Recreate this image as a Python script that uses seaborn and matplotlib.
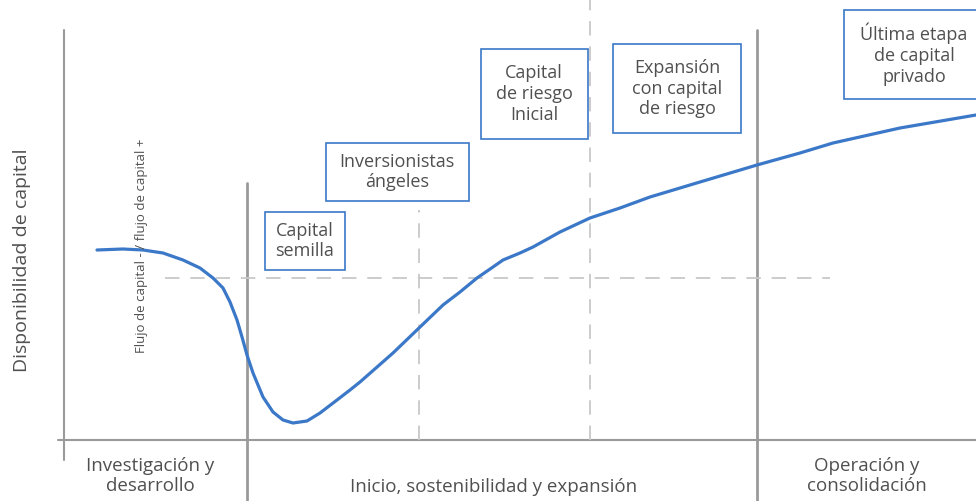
import numpy as np
import pandas as pd
import matplotlib.pyplot as plt
import matplotlib.patches as mpatches
import seaborn as sns

# Curve: stage position (x) vs capital availability (height above the x axis)
stage_pos = [97, 123, 143, 163, 183, 200, 213, 223, 230, 237, 242, 247, 253,
             263, 273, 283, 293, 307, 320, 337, 350, 360, 393, 419, 443, 460,
             477, 493, 503, 520, 533, 560, 590, 620, 650, 700, 757, 800, 833,
             900, 976]
availability = [190, 191, 190, 187, 180, 172, 162, 152, 138, 120, 103, 85, 67,
                43, 28, 20, 17, 19, 27, 40, 50, 58, 87, 112, 135, 148,
                162, 173, 180, 187, 193, 208, 222, 232, 243, 258, 275, 287, 297,
                312, 325]

# Phase labels along the bottom
phases = ["Investigación y\ndesarrollo", "Inicio, sostenibilidad y expansión",
          "Operación y\nconsolidación"]
phase_x = [150, 494, 867]
phase_y = [-36, -47, -36]

# Financing stage boxes: label and box extents (x0, x1, y0, y1)
stages = ["Capital\nsemilla", "Inversionistas\nángeles",
          "Capital\nde riesgo\nInicial", "Expansión\ncon capital\nde riesgo",
          "Última etapa\nde capital\nprivado"]
box_x0 = [265, 326, 481, 613, 844]
box_x1 = [345, 469, 588, 741, 985]
box_y0 = [170, 239, 301, 307, 341]
box_y1 = [228, 297, 391, 396, 430]
text_cx = [305, 397, 534, 677, 914]

blue = "#3b78c8"
grey = "#9a9a9a"
text_col = "#505050"

sns.set_style("white")
plt.rcParams['font.family'] = ['Open Sans', 'DejaVu Sans']

fig = plt.figure(figsize=(9.76, 5.01), dpi=100)
ax = fig.add_axes([0, 0, 1, 1])
ax.set_xlim(0, 976)
ax.set_ylim(-61, 440)
ax.axis("off")

# axes frame
ax.plot([64, 64], [-20, 410], color=grey, lw=1.5)
ax.plot([58, 976], [0, 0], color=grey, lw=1.5)
# phase dividers
ax.plot([247, 247], [-61, 257], color=grey, lw=2)
ax.plot([757, 757], [-61, 410], color=grey, lw=2)
# dashed guides
dash = dict(color="#c8c8c8", lw=1.3, ls=(0, (8, 6)))
ax.plot([419, 419], [0, 230], **dash)
ax.plot([590, 590], [0, 440], **dash)
ax.plot([165, 830], [162, 162], **dash)

df = pd.DataFrame({"x": stage_pos, "y": availability})
sns.lineplot(data=df, x="x", y="y", ax=ax, color=blue, lw=2.3, sort=False,
             solid_joinstyle="round", solid_capstyle="round")
ax.set_xlabel("")
ax.set_ylabel("")

for lab, x0, x1, y0, y1, cx in zip(stages, box_x0, box_x1, box_y0, box_y1, text_cx):
    ax.add_patch(mpatches.Rectangle((x0, y0), x1 - x0, y1 - y0, fc="white",
                                    ec=blue, lw=1.2, zorder=3, clip_on=False))
    ax.text(cx, (y0 + y1) / 2, lab, ha="center", va="center", fontsize=13,
            color=text_col, linespacing=1.2, zorder=4)

for lab, x, y in zip(phases, phase_x, phase_y):
    ax.text(x, y, lab, ha="center", va="center", fontsize=13.5,
            color=text_col, linespacing=1.15)

ax.text(22, 180, "Disponibilidad de capital", rotation=90, ha="center",
        va="center", fontsize=14, color=text_col)
ax.text(141, 194, "Flujo de capital - / flujo de capital +", rotation=90,
        ha="center", va="center", fontsize=9.5, color=text_col)

fig.savefig("out.png", dpi=100)
